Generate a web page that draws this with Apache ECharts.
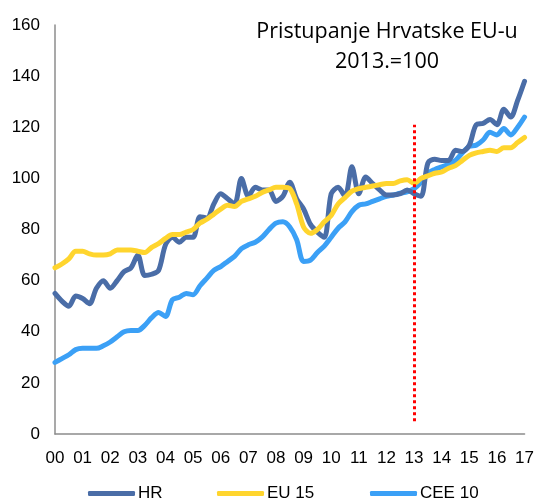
<!DOCTYPE html>
<html lang="hr">
<head>
    <meta charset="UTF-8">
    <title>Pristupanje Hrvatske EU-u</title>
    <script src="https://cdn.jsdelivr.net/npm/echarts@6/dist/echarts.min.js"></script>
    <style>
        html, body { margin: 0; padding: 0; background: #fff; }
        #main { width: 537px; height: 499px; }
    </style>
</head>
<body>
<div id="main"></div>
<script type="text/javascript">
    // godine na osi x (kvartalni podaci, oznaka na prvom kvartalu)
    var years = ['00','01','02','03','04','05','06','07','08','09','10','11','12','13','14','15','16','17'];
    var categories = [];
    for (var y = 0; y < years.length; y++) {
        for (var q = 1; q <= 4; q++) {
            if (y === years.length - 1 && q > 1) break;
            categories.push(years[y] + 'Q' + q);
        }
    }

    var hr = [55, 52, 50, 54, 53, 51, 57, 60, 57, 60, 63.5, 65, 70, 62, 62.5, 64,
        74, 77, 75, 77, 77, 85, 84.5, 90, 94, 92, 90, 100, 93, 96.5, 95.5, 95.5,
        91, 93, 98.5, 92, 88, 82, 79, 77, 94, 96.5, 93, 104.5, 94, 100.5, 98, 95.5,
        93.5, 93.5, 94, 95.5, 94, 93, 106, 107.5, 107, 107, 111, 110.5, 113, 121, 121.5, 123,
        121, 127, 124, 130.5, 138];
    var eu15 = [65, 66.5, 68.5, 71.5, 71.5, 70.5, 70, 70, 70.5, 72, 72, 72, 71.5, 71, 73, 74.5,
        76.5, 78, 78, 79, 80, 82.5, 84, 86, 88, 89.5, 89, 91, 92, 93, 94.5, 95.5,
        96.5, 96.5, 96, 90, 81, 78.5, 80, 83, 85.5, 90, 92.5, 95, 96, 96.5, 97, 97.5,
        98, 98, 99, 99.5, 98, 100, 101, 102, 102.5, 104, 105, 107, 109, 110, 110.5, 111,
        110.5, 112, 112, 114, 116];
    var cee10 = [28, 29.5, 31, 33, 33.5, 33.5, 33.5, 34.5, 36, 38, 40, 40.5, 40.5, 42.5, 45.5, 47.5,
        46, 52.5, 53.5, 55, 54.5, 58, 61, 64, 65.5, 67.5, 69.5, 72.5, 74, 75, 77, 80,
        82.5, 83, 81, 76, 67.5, 68, 71, 73.5, 77, 80.5, 83, 87, 89.5, 90, 91, 92,
        93, 93.5, 94.2, 94.7, 96, 98.5, 102, 103.5, 104.5, 105.5, 107, 110, 112.5, 113, 115, 118,
        117, 119.5, 117, 120, 124];

    // okomita crta - pristupanje 2013.
    var accessionIndex = 52;
    var accessionRange = [5, 121];

    var colors = ['#4a6da7', '#ffd52e', '#3ba0f6'];
    var names = ['HR', 'EU 15', 'CEE 10'];
    var seriesData = [hr, eu15, cee10];
    var legendLeft = [83, 212, 365];
    var zOrder = [2, 3, 1];

    var legends = [];
    var series = [];
    for (var i = 0; i < names.length; i++) {
        legends.push({
            data: [names[i]],
            left: legendLeft[i],
            top: 480,
            icon: 'roundRect',
            itemWidth: 47,
            itemHeight: 5,
            itemGap: 0,
            textStyle: { fontFamily: 'Liberation Sans', fontSize: 17, color: '#000', padding: [0, 0, 0, -2] }
        });
        series.push({
            name: names[i],
            type: 'line',
            data: seriesData[i],
            showSymbol: false,
            smooth: 0.3,
            z: zOrder[i],
            lineStyle: { width: 5, color: colors[i], cap: 'round', join: 'round' },
            itemStyle: { color: colors[i] }
        });
    }
    series[0].markLine = {
        silent: true,
        symbol: ['none', 'none'],
        label: { show: false },
        lineStyle: { color: '#ff0000', width: 3, type: [3, 3] },
        data: [[
            { coord: [accessionIndex, accessionRange[0]] },
            { coord: [accessionIndex, accessionRange[1]] }
        ]]
    };

    var myChart = echarts.init(document.getElementById('main'));
    myChart.setOption({
        animation: false,
        title: {
            text: 'Pristupanje Hrvatske EU-u\n2013.=100',
            left: 382,
            top: 12,
            textAlign: 'center',
            textStyle: { fontFamily: 'Open Sans', fontWeight: 'normal', fontSize: 21.5, lineHeight: 30, color: '#000' }
        },
        legend: legends,
        grid: { left: 55, right: 9, top: 25, bottom: 65 },
        xAxis: {
            type: 'category',
            data: categories,
            boundaryGap: false,
            axisLine: { lineStyle: { color: '#8c8c8c', width: 1.5 } },
            axisTick: { show: false },
            axisLabel: {
                interval: 3,
                margin: 16,
                fontFamily: 'Liberation Sans',
                fontSize: 17,
                color: '#000',
                formatter: function (v) { return v.substring(0, 2); }
            },
            splitLine: { show: false }
        },
        yAxis: {
            type: 'value',
            min: 0,
            max: 160,
            interval: 20,
            axisLine: { show: true, lineStyle: { color: '#8c8c8c', width: 1.5 } },
            axisTick: { show: false },
            axisLabel: { margin: 15, fontFamily: 'Liberation Sans', fontSize: 17, color: '#000' },
            splitLine: { show: false }
        },
        series: series
    });
</script>
</body>
</html>
